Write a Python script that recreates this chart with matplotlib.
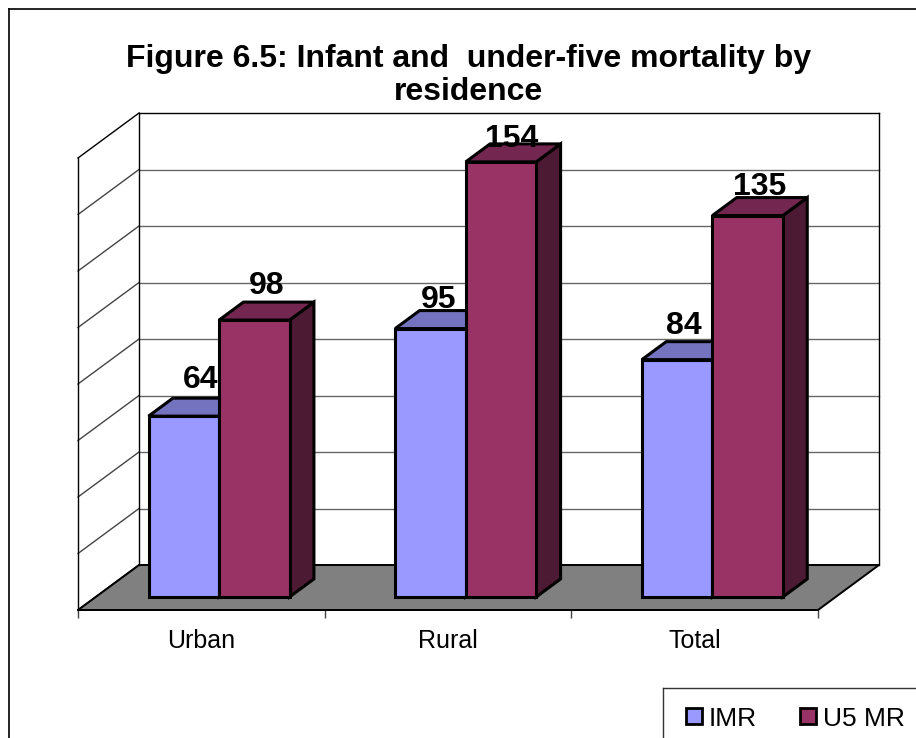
import matplotlib
matplotlib.use('Agg')
import matplotlib.pyplot as plt
from matplotlib.patches import Polygon, Rectangle
from matplotlib.lines import Line2D

plt.rcParams['font.family'] = ['Liberation Sans', 'DejaVu Sans']

# data
categories = ['Urban', 'Rural', 'Total']
imr = [64, 95, 84]
u5mr = [98, 154, 135]
series_names = ['IMR', 'U5 MR']
yticks = [0, 20, 40, 60, 80, 100, 120, 140, 160]
title = 'Figure 6.5: Infant and  under-five mortality by\nresidence'

# label nudges in px, the original labels don't sit evenly over the bars
label_dx = [[17, 8, 7], [12, 11, 12]]
label_up = [[28, 21, 26], [26, 15, 21]]

W, H = 916, 738
fig = plt.figure(figsize=(W / 100, H / 100), dpi=100)
# axes = the front plane of the 3d box
ax = fig.add_axes([78 / W, (H - 610) / H, 740 / W, 452 / H])
ax.set_xlim(0, 3)
ax.set_ylim(0, 160)
ax.patch.set_visible(False)

# depth of the box in data units
dx = 61 / (740 / 3)
dy = 45 / (452 / 160)


def pt(x, y, d=0.0):
    # d=0 front of box, d=1 back wall
    return (x + d * dx, y + d * dy)


def poly(points, color, ec='black', lw=2.2, z=2):
    ax.add_patch(Polygon(points, closed=True, facecolor=color, edgecolor=ec,
                         linewidth=lw, clip_on=False, zorder=z, joinstyle='miter'))


# floor
poly([pt(0, 0), pt(3, 0), pt(3, 0, 1), pt(0, 0, 1)], '#808080', lw=1.4, z=1)

# walls and grid
for v in yticks:
    col = 'black' if v in (0, 160) else '#444444'
    ax.plot(*zip(pt(0, v, 0), pt(0, v, 1)), color=col, lw=1, clip_on=False, zorder=1)
    if v > 0:
        back_col = 'black' if v == 160 else '#666666'
        ax.plot(*zip(pt(0, v, 1), pt(3, v, 1)), color=back_col, lw=1, clip_on=False, zorder=1)
ax.plot(*zip(pt(0, 0, 1), pt(0, 160, 1)), color='black', lw=1, clip_on=False, zorder=1)
ax.plot(*zip(pt(3, 0, 1), pt(3, 160, 1)), color='black', lw=1, clip_on=False, zorder=1)

# bars
bar_w = 70.5 / (740 / 3)
d0, d1 = 0.29, 0.69
front_cols = ['#9999FF', '#993366']
top_cols = ['#7373BF', '#732650']
side_cols = ['#4D4D80', '#4D1A33']
for i in range(len(categories)):
    for j, vals in enumerate([imr, u5mr]):
        v = vals[i]
        x0 = i + 0.5 + (j - 1) * bar_w
        x1 = x0 + bar_w
        poly([pt(x1, 0, d0), pt(x1, 0, d1), pt(x1, v, d1), pt(x1, v, d0)], side_cols[j], z=3 + j)
        poly([pt(x0, v, d0), pt(x1, v, d0), pt(x1, v, d1), pt(x0, v, d1)], top_cols[j], z=3 + j)
        poly([pt(x0, 0, d0), pt(x1, 0, d0), pt(x1, v, d0), pt(x0, v, d0)], front_cols[j], z=3 + j)
        lx, ly = pt(x0 + bar_w / 2, v, d0)
        ax.annotate(str(v), (lx, ly), xytext=(label_dx[j][i] * 0.72, label_up[j][i] * 0.72),
                    textcoords='offset points', ha='center', va='baseline', fontsize=23,
                    fontweight='bold', color='black', zorder=10, annotation_clip=False)

# axes stuff
for s in ['top', 'right']:
    ax.spines[s].set_visible(False)
ax.spines['bottom'].set_linewidth(1.4)
ax.spines['left'].set_linewidth(1.0)
ax.spines['bottom'].set_zorder(2)
ax.set_yticks([])
ax.set_xticks([0, 1, 2, 3])
ax.set_xticklabels([])
ax.tick_params(axis='x', which='major', length=6, width=1, color='#444444')
ax.set_xticks([0.5, 1.5, 2.5], minor=True)
ax.set_xticklabels(categories, minor=True, fontsize=18)
ax.tick_params(axis='x', which='minor', length=0, pad=14)

# title
fig.text(468.5 / W, 1 - 75.5 / H, title, ha='center', va='center', fontsize=23,
         fontweight='bold', linespacing=1.15)

# outer border, runs off the right and bottom of the image
fig.add_artist(Line2D([8.5 / W, 8.5 / W], [0, 1 - 8.5 / H], color='black', lw=1.2))
fig.add_artist(Line2D([8.5 / W, 1], [1 - 8.5 / H, 1 - 8.5 / H], color='black', lw=1.2))

# legend box, also cut off by the image edge
fig.add_artist(Line2D([663 / W, 663 / W], [0, 1 - 688 / H], color='#333333', lw=1))
fig.add_artist(Line2D([663 / W, 1], [1 - 688 / H, 1 - 688 / H], color='#333333', lw=1))
for name, col, bx, tx in zip(series_names, front_cols, [686, 800], [709, 823]):
    fig.add_artist(Rectangle((bx / W, 1 - 724 / H), 16 / W, 16 / H, facecolor=col,
                             edgecolor='black', linewidth=2, transform=fig.transFigure))
    fig.text(tx / W, 1 - 726 / H, name, ha='left', va='baseline', fontsize=19)

fig.savefig('out.png', dpi=100)
